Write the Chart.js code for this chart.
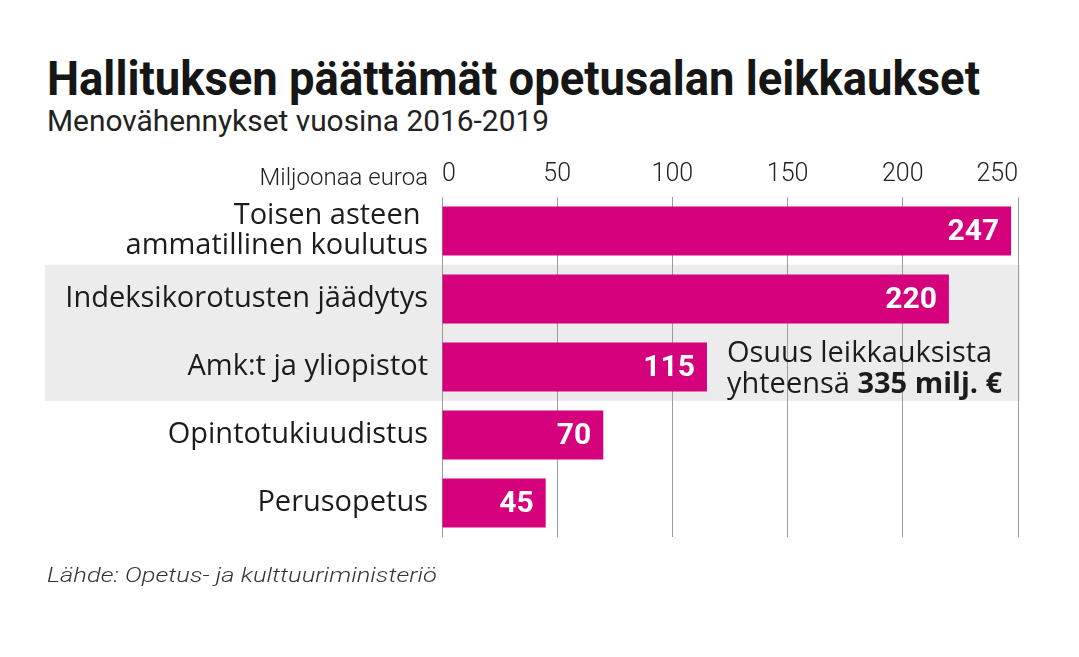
<!DOCTYPE html>
<html lang="fi">
<head>
<meta charset="utf-8">
<title>Hallituksen päättämät opetusalan leikkaukset</title>
<script src="https://cdn.jsdelivr.net/npm/chart.js@4.4.1/dist/chart.umd.min.js"></script>
<style>
    html, body { margin: 0; padding: 0; background: #fff; }
    body { width: 1079px; height: 657px; position: relative; overflow: hidden; font-family: Roboto, "Noto Sans", sans-serif; color: #1c1c1c; }
    .txt { position: absolute; left: 47px; white-space: nowrap; line-height: 1; transform-origin: 0 0; }
    #title { top: 54px; font-size: 49px; font-weight: 700; color: #161616; }
    #subtitle { top: 107px; font-size: 29px; font-weight: 400; color: #222; }
    #source { top: 565px; font-size: 21px; font-weight: 300; font-style: italic; color: #333; }
    #wrap { position: absolute; left: 0; top: 0; width: 1079px; height: 657px; }
</style>
</head>
<body>
<div class="txt" id="title" data-w="933">Hallituksen päättämät opetusalan leikkaukset</div>
<div class="txt" id="subtitle" data-w="502">Menovähennykset vuosina 2016-2019</div>
<div id="wrap"><canvas id="chart" width="1079" height="657"></canvas></div>
<div class="txt" id="source" data-w="390">Lähde: Opetus- ja kulttuuriministeriö</div>

<script>
const categories = [
    ['Toisen asteen ', 'ammatillinen koulutus'],
    'Indeksikorotusten jäädytys',
    'Amk:t ja yliopistot',
    'Opintotukiuudistus',
    'Perusopetus'
];
const cuts = [247, 220, 115, 70, 45];
const axisTicks = [0, 50, 100, 150, 200, 250];
const axisUnit = 'Miljoonaa euroa';
const shadedRows = [1, 2];
const noteLines = ['Osuus leikkauksista', 'yhteensä ', '335 milj. €'];

const magenta = '#d5007b';
const fontFamily = 'Roboto, "Noto Sans", sans-serif';
const labelFamily = '"Open Sans", Roboto, sans-serif';

// squeeze the headline texts to the width they have in the original
document.querySelectorAll('.txt').forEach(el => {
    const target = parseFloat(el.dataset.w);
    const w = el.getBoundingClientRect().width;
    el.style.transform = 'scaleX(' + (target / w) + ')';
});

const bandPlugin = {
    id: 'band',
    beforeDraw(chart) {
        const y = chart.scales.y;
        const ctx = chart.ctx;
        const pitch = y.getPixelForValue(1) - y.getPixelForValue(0);
        const top = y.getPixelForValue(shadedRows[0]) - pitch / 2;
        const bottom = y.getPixelForValue(shadedRows[shadedRows.length - 1]) + pitch / 2;
        ctx.save();
        ctx.fillStyle = '#ececec';
        ctx.fillRect(45, top, chart.chartArea.right + 2 - 45, bottom - top);
        ctx.restore();
    }
};

const labelPlugin = {
    id: 'labels',
    afterDatasetsDraw(chart) {
        const ctx = chart.ctx;
        const x = chart.scales.x;
        const y = chart.scales.y;
        ctx.save();
        // values inside bar ends
        ctx.font = 'bold 30px ' + fontFamily;
        ctx.fillStyle = '#fff';
        ctx.textAlign = 'right';
        ctx.textBaseline = 'middle';
        chart.getDatasetMeta(0).data.forEach((bar, i) => {
            ctx.fillText(String(cuts[i]), bar.x - 12, bar.y + 1);
        });

        // unit label left of the first tick
        ctx.font = '300 24px ' + fontFamily;
        ctx.fillStyle = '#222';
        ctx.textAlign = 'right';
        ctx.textBaseline = 'alphabetic';
        ctx.fillText(axisUnit, 428, 185);

        // note next to the third bar
        const nx = x.getPixelForValue(cuts[2]) + 20;
        const ny = y.getPixelForValue(2);
        ctx.textAlign = 'left';
        ctx.font = '400 29px ' + labelFamily;
        ctx.fillStyle = '#1c1c1c';
        ctx.fillText(noteLines[0], nx, ny - 5);
        ctx.fillText(noteLines[1], nx, ny + 26);
        const w = ctx.measureText(noteLines[1]).width;
        ctx.font = 'bold 29px ' + labelFamily;
        ctx.fillText(noteLines[2], nx + w, ny + 26);
        ctx.restore();
    }
};

new Chart(document.getElementById('chart'), {
    type: 'bar',
    data: {
        labels: categories,
        datasets: [{
            data: cuts,
            backgroundColor: magenta,
            borderWidth: 0,
            barPercentage: 0.72,
            categoryPercentage: 1
        }]
    },
    plugins: [bandPlugin, labelPlugin],
    options: {
        indexAxis: 'y',
        responsive: false,
        animation: false,
        devicePixelRatio: 1,
        layout: { padding: { left: 0, right: 61, top: 0, bottom: 120 } },
        plugins: {
            legend: { display: false },
            tooltip: { enabled: false }
        },
        scales: {
            x: {
                position: 'top',
                min: 0,
                max: 250,
                afterFit: scale => { scale.height = 197; },
                afterBuildTicks: scale => { scale.ticks = axisTicks.map(v => ({ value: v })); },
                grid: { color: '#9c9c9c', lineWidth: 1, drawTicks: false },
                border: { display: false },
                ticks: {
                    align: 'inner',
                    padding: 7,
                    color: '#222',
                    font: { family: fontFamily, size: 25, weight: 300 }
                }
            },
            y: {
                afterFit: scale => { scale.width = 442; },
                grid: { display: false, drawTicks: false },
                border: { display: false },
                ticks: {
                    padding: 14,
                    color: '#1c1c1c',
                    font: { family: labelFamily, size: 29, lineHeight: 1.05 }
                }
            }
        }
    }
});
</script>
</body>
</html>
